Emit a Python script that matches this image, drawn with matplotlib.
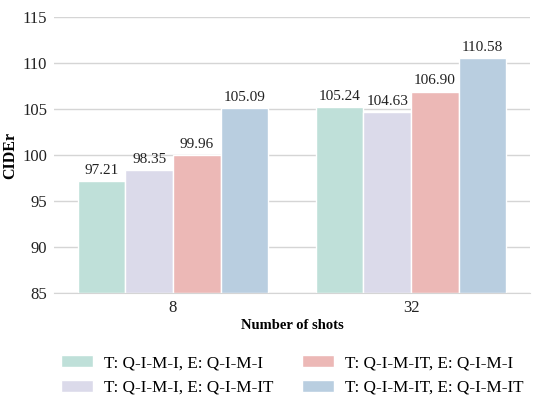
import matplotlib
matplotlib.use("Agg")
import matplotlib.pyplot as plt
import numpy as np

# ---------------------- Data ---------------------------
shots = ["8", "32"]
series = [
    "T: Q-I-M-I, E: Q-I-M-I",
    "T: Q-I-M-I, E: Q-I-M-IT",
    "T: Q-I-M-IT, E: Q-I-M-I",
    "T: Q-I-M-IT, E: Q-I-M-IT",
]
qimi_qimi = [97.21, 105.24]
qimi_qimit = [98.35, 104.63]
qimit_qimi = [99.96, 106.90]
qimit_qimit = [105.09, 110.58]
values = [qimi_qimi, qimi_qimit, qimit_qimi, qimit_qimit]
colors = ["#bfe0d9", "#dbdaea", "#ecb8b6", "#b9cee0"]

# ---------------------- Style ---------------------------
plt.rcParams["font.family"] = ["Liberation Serif", "DejaVu Serif"]

fig = plt.figure(figsize=(5.36, 3.97), dpi=100)
ax = fig.add_axes([0.1007, 0.262, 0.8883, 0.695])

x = np.arange(len(shots))
width = 0.2
for i, (name, vals) in enumerate(zip(series, values)):
    pos = x - 0.3 + i * width
    ax.bar(pos, np.array(vals) - 85, width, bottom=85, color=colors[i],
           edgecolor="white", linewidth=1, label=name, zorder=2)
    for p, v in zip(pos, vals):
        ax.text(p, v + 0.45, f"{v:.2f}", ha="center", va="bottom",
                fontsize=11, color="#222222")

ax.set_xlim(-0.5, 1.5)
ax.set_ylim(85, 115)
ax.set_yticks(np.arange(85, 116, 5))
ax.set_xticks(x)
ax.set_xticklabels(shots)
ax.tick_params(axis="both", length=0, labelsize=12, colors="#222222", pad=5)
ax.grid(axis="y", color="#d5d5d5", linewidth=1, zorder=0)
ax.set_axisbelow(True)
for s in ["left", "right", "top"]:
    ax.spines[s].set_visible(False)
ax.spines["bottom"].set_color("#d5d5d5")

ax.set_ylabel("CIDEr", fontsize=11.5, fontweight="bold", labelpad=3)
ax.set_xlabel("Number of shots", fontsize=10.5, fontweight="bold", labelpad=2)

ax.legend(loc="upper center", bbox_to_anchor=(0.5, -0.17), ncol=2,
          frameon=False, fontsize=12.3, handlelength=1.9, handleheight=0.7,
          handletextpad=0.6, columnspacing=1.7, labelspacing=0.5)

fig.savefig("out.png", dpi=100)
